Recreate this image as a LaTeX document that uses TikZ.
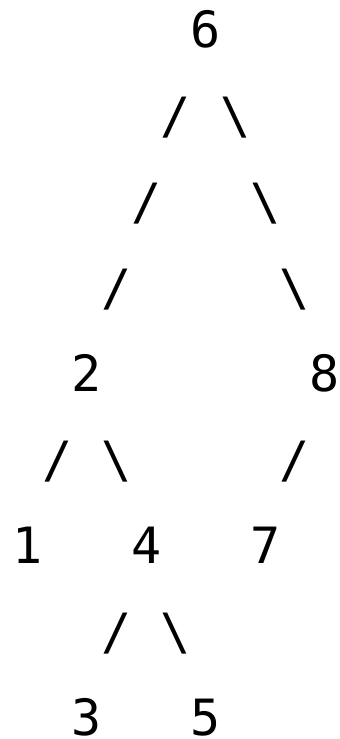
\documentclass[tikz,border=0pt]{standalone}
\usepackage{fontspec}
\setmonofont{DejaVu Sans Mono}
\begin{document}
\begin{tikzpicture}[x=1pt,y=1pt,
  ch/.style={anchor=base, inner sep=0pt, outer sep=0pt, font=\ttfamily\fontsize{50}{60}\selectfont}]
\useasboundingbox (0,0) rectangle (340,-739);
% column centre: 27.5 + 29.7*k ; baseline: -(47 + 86*r)
\def\cx#1{\fpeval{27.5+29.7*#1}}
% row 0
\node[ch] (n6) at (205.7,-47) {6};
% row 1
\node[ch] (s1a) at (176,-133) {/};
\node[ch] (s1b) at (235.4,-133) {\textbackslash};
% row 2
\node[ch] (s2a) at (146.3,-219) {/};
\node[ch] (s2b) at (265.1,-219) {\textbackslash};
% row 3
\node[ch] (s3a) at (116.6,-305) {/};
\node[ch] (s3b) at (294.8,-305) {\textbackslash};
% row 4
\node[ch] (n2) at (86.9,-391) {2};
\node[ch] (n8) at (324.5,-391) {8};
% row 5
\node[ch] (s5a) at (57.2,-477) {/};
\node[ch] (s5b) at (116.6,-477) {\textbackslash};
\node[ch] (s5c) at (294.8,-477) {/};
% row 6
\node[ch] (n1) at (27.5,-563) {1};
\node[ch] (n4) at (146.3,-563) {4};
\node[ch] (n7) at (265.1,-563) {7};
% row 7
\node[ch] (s7a) at (116.6,-649) {/};
\node[ch] (s7b) at (176,-649) {\textbackslash};
% row 8
\node[ch] (n3) at (86.9,-735) {3};
\node[ch] (n5) at (205.7,-735) {5};
\end{tikzpicture}
\end{document}
